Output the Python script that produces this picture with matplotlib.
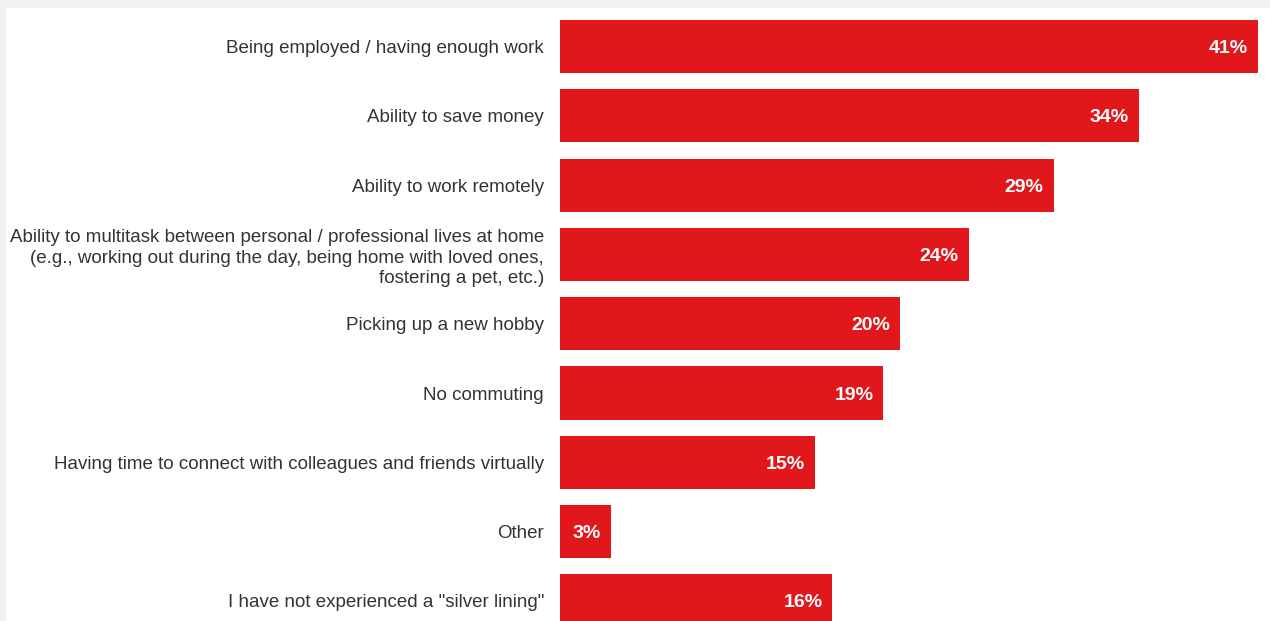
import matplotlib.pyplot as plt
from matplotlib.patches import Rectangle

plt.rcParams['font.family'] = ['Liberation Sans', 'DejaVu Sans']

categories = [
    'Being employed / having enough work',
    'Ability to save money',
    'Ability to work remotely',
    'Ability to multitask between personal / professional lives at home\n'
    '(e.g., working out during the day, being home with loved ones,\n'
    'fostering a pet, etc.)',
    'Picking up a new hobby',
    'No commuting',
    'Having time to connect with colleagues and friends virtually',
    'Other',
    'I have not experienced a "silver lining"',
]
values = [41, 34, 29, 24, 20, 19, 15, 3, 16]

red = '#e1171c'
W, H = 1270, 621

fig = plt.figure(figsize=(W / 100, H / 100), dpi=100, facecolor='#f2f2f2')
# white panel inside the grey frame, kept behind the axes
fig.patches.append(Rectangle((6 / W, -0.01), 1.0, 1.01 - 8 / H,
                             transform=fig.transFigure, facecolor='white',
                             edgecolor='none', zorder=-10))

ax = fig.add_axes([560 / W, 0, 698 / W, 1])
ax.set_facecolor('none')

pos = range(len(values))
ax.barh(pos, values, height=0.765, color=red)

for i, v in zip(pos, values):
    ax.annotate(f'{v}%', (v, i), xytext=(-7.2, 0), textcoords='offset points',
                ha='right', va='center_baseline', color='white', fontsize=14,
                fontweight='bold')

ax.set_xlim(0, 41)
ax.set_ylim((H - 46.5) / 69.3, -46.5 / 69.3)
ax.set_yticks(list(pos))
ax.set_yticklabels(categories, fontsize=13.5, color='#333333', linespacing=1.28)
ax.tick_params(axis='y', length=0, pad=11.5)
ax.set_xticks([])
for s in ax.spines.values():
    s.set_visible(False)

fig.savefig('out.png', dpi=100, facecolor=fig.get_facecolor())
